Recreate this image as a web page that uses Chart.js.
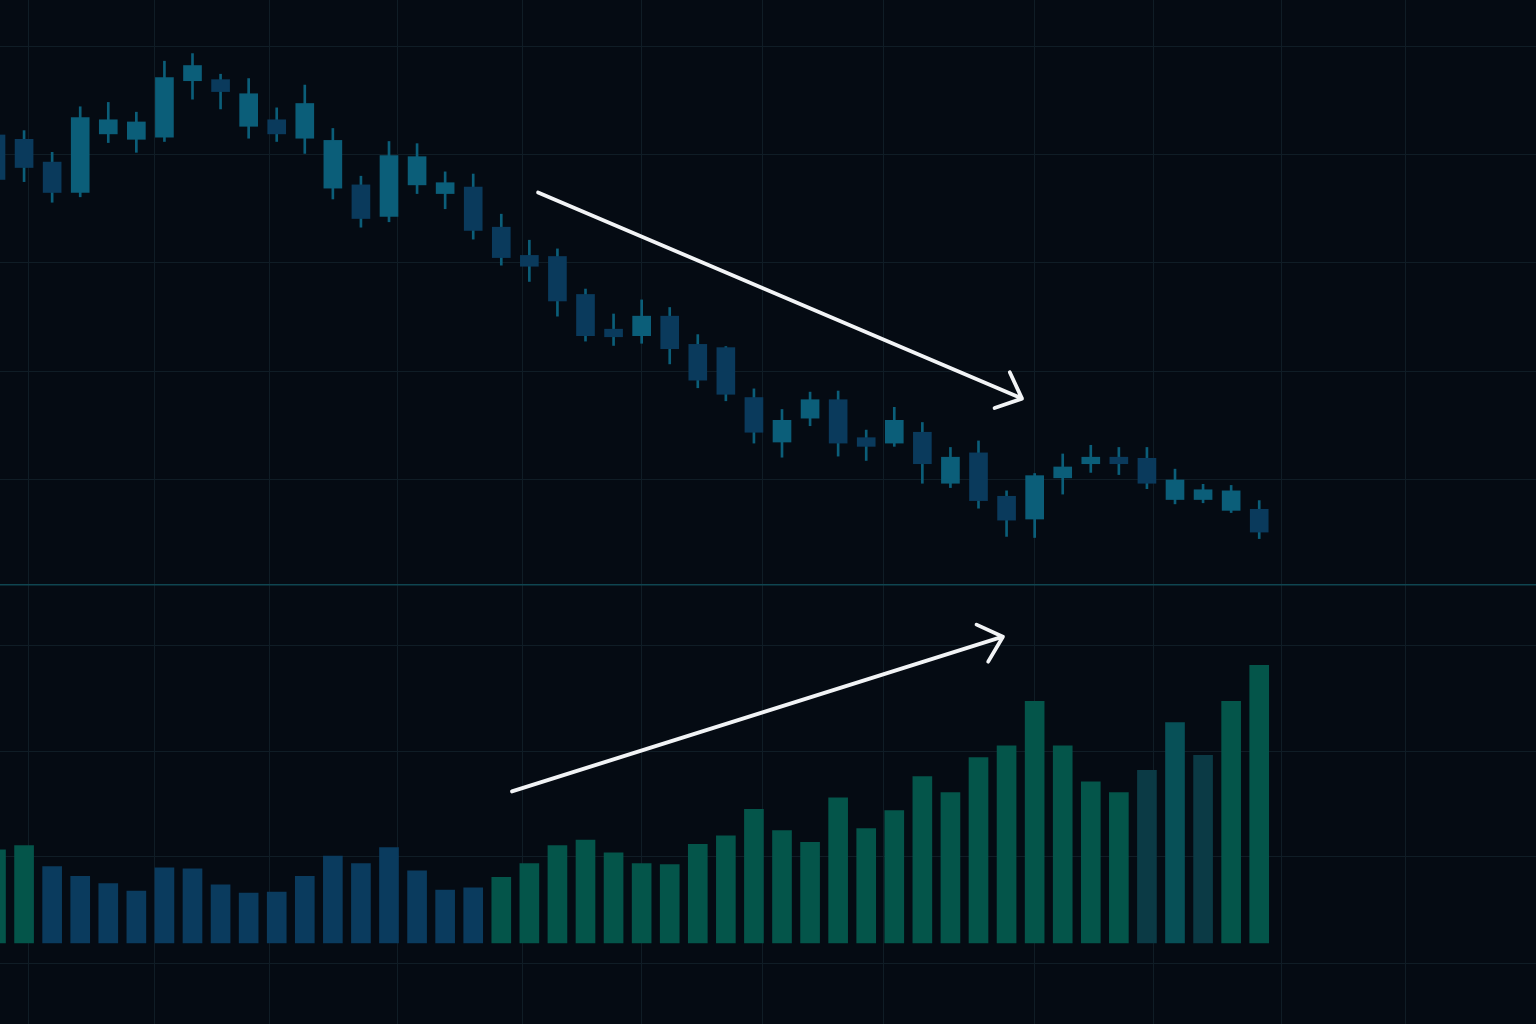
<!DOCTYPE html>
<html>
<head>
<meta charset="utf-8">
<script src="https://cdn.jsdelivr.net/npm/chart.js@4.4.1/dist/chart.umd.min.js"></script>
<style>
  html, body { margin: 0; padding: 0; background: #050b13; }
  canvas { display: block; }
</style>
</head>
<body>
<canvas id="chart" width="1536" height="1024"></canvas>
<script>
// daily OHLC, session 0 .. 45
const opens  = [131.8,131.4,129.3,126.5,131.9,131.4,131.6,136.8,136.9,132.6,133.2,131.5,126.9,127.2,124.3,127.2,126.4,127.0,123.3,120.7,120.6,117.1,113.9,113.3,115.1,112.5,112.2,107.6,103.5,105.7,107.4,103.9,103.4,104.4,99.7,102.5,98.5,96.4,100.2,101.5,102.1,102.0,98.2,98.2,97.2,97.3];
const highs  = [132.4,132.2,130.2,134.4,134.8,133.9,138.6,139.3,137.4,137.0,134.3,136.4,132.4,128.0,131.2,131.0,128.4,128.2,124.5,122.1,121.3,117.6,115.3,116.6,115.9,113.4,112.3,108.4,106.5,108.1,108.2,104.6,106.7,105.3,103.0,103.6,99.0,100.6,102.4,103.2,103.0,103.0,101.0,99.6,99.5,98.1];
const lows   = [127.2,127.5,125.6,126.1,131.1,130.2,131.2,135.1,134.2,131.5,131.2,130.1,125.9,123.3,123.8,126.4,125.0,122.2,119.8,118.3,115.1,112.8,112.4,112.6,110.7,108.5,107.3,103.4,102.1,105.0,102.2,101.8,103.1,99.7,99.3,97.4,94.8,94.7,98.7,100.7,100.5,99.2,97.8,97.9,97.0,94.6];
const closes = [127.7,128.8,126.5,133.4,133.2,133.0,137.1,138.2,135.8,135.6,131.9,134.7,131.3,124.1,129.9,129.8,127.4,123.0,120.5,119.7,116.5,113.3,113.2,115.1,112.1,109.2,107.9,104.4,105.5,107.4,103.4,103.1,105.5,101.5,102.1,98.1,96.3,100.4,101.2,102.1,101.5,99.7,100.0,99.1,99.0,95.2];

// volume (millions) and flow type
const volumes = [8.8,9.2,7.2,6.3,5.6,4.9,7.1,7.0,5.5,4.7,4.8,6.3,8.2,7.5,9.0,6.8,5.0,5.2,6.2,7.5,9.2,9.7,8.5,7.5,7.4,9.3,10.1,12.6,10.6,9.5,13.7,10.8,12.5,15.7,14.2,17.5,18.6,22.8,18.6,15.2,14.2,16.3,20.8,17.7,22.8,26.2];
const volFlow = ['buy','buy','sell','sell','sell','sell','sell','sell','sell','sell','sell','sell','sell','sell','sell','sell','sell','sell',
  'buy','buy','buy','buy','buy','buy','buy','buy','buy','buy','buy','buy','buy','buy','buy','buy','buy','buy','buy','buy','buy','buy','buy',
  'neutral','mixed','neutral','buy','buy'];

// grid tick values
const priceTicks = [100, 110, 120, 130, 140];
const volTicks = [-1.9, 8.2, 18.1, 28.1];
const volPanelTop = 33.8;
const sessionGrid = [1.14, 5.63, 9.73, 14.29, 18.74, 23.01, 27.32, 31.6, 36.98, 41.25, 45.78, 50.2];

// trend arrows: [session, value] start and end
const priceArrow = [[19.31, 126.5], [36.55, 107.5]];
const volArrow = [[18.38, 14.3], [35.87, 28.9]];

const BG = '#050b13';
const GRID = '#101d26';
const SEP = '#0f4550';
const UP = '#0b5e79';
const DOWN = '#0a3a5c';
const WICK = '#0b5e79';
const flowColors = { buy: '#04554a', sell: '#0a3b5e', neutral: '#0b3a45', mixed: '#075057' };

const idx = opens.map((_, i) => i);

const bgPlugin = {
  id: 'bg',
  beforeDraw(chart) {
    const c = chart.ctx;
    c.save();
    c.fillStyle = BG;
    c.fillRect(0, 0, chart.width, chart.height);
    c.restore();
  }
};

function drawArrow(c, x1, y1, x2, y2) {
  const ang = Math.atan2(y2 - y1, x2 - x1);
  const len = 29, spread = 42 * Math.PI / 180;
  c.beginPath();
  c.moveTo(x1, y1);
  c.lineTo(x2, y2);
  c.moveTo(x2 - len * Math.cos(ang - spread), y2 - len * Math.sin(ang - spread));
  c.lineTo(x2, y2);
  c.lineTo(x2 - len * Math.cos(ang + spread), y2 - len * Math.sin(ang + spread));
  c.stroke();
}

const arrowPlugin = {
  id: 'arrows',
  afterDatasetsDraw(chart) {
    const c = chart.ctx;
    const xs = chart.scales.x, yp = chart.scales.yP, yv = chart.scales.yV;
    c.save();
    c.strokeStyle = '#f2f4f6';
    c.lineWidth = 3.8;
    c.lineCap = 'round';
    c.lineJoin = 'round';
    drawArrow(c, xs.getPixelForValue(priceArrow[0][0]), yp.getPixelForValue(priceArrow[0][1]),
                 xs.getPixelForValue(priceArrow[1][0]), yp.getPixelForValue(priceArrow[1][1]));
    drawArrow(c, xs.getPixelForValue(volArrow[0][0]), yv.getPixelForValue(volArrow[0][1]),
                 xs.getPixelForValue(volArrow[1][0]), yv.getPixelForValue(volArrow[1][1]));
    c.restore();
  }
};

const hidden = { display: false };

new Chart(document.getElementById('chart'), {
  type: 'bar',
  data: {
    datasets: [
      {
        label: 'Body',
        yAxisID: 'yP',
        order: 0,
        grouped: false,
        barThickness: 18,
        data: idx.map(i => ({ x: i, y: [opens[i], closes[i]] })),
        backgroundColor: idx.map(i => closes[i] >= opens[i] ? UP : DOWN),
        borderSkipped: false
      },
      {
        label: 'Wick',
        yAxisID: 'yP',
        order: 1,
        grouped: false,
        barThickness: 2,
        data: idx.map(i => ({ x: i, y: [lows[i], highs[i]] })),
        backgroundColor: WICK,
        borderSkipped: false
      },
      {
        label: 'Volume',
        yAxisID: 'yV',
        order: 2,
        grouped: false,
        barThickness: 19,
        data: idx.map(i => ({ x: i, y: volumes[i] })),
        backgroundColor: volFlow.map(f => flowColors[f])
      }
    ]
  },
  options: {
    responsive: false,
    animation: false,
    devicePixelRatio: 1,
    layout: { padding: 0 },
    plugins: { legend: hidden, tooltip: { enabled: false } },
    scales: {
      x: {
        type: 'linear',
        offset: false,
        min: 0.1425,
        max: 54.86,
        ticks: hidden,
        border: hidden,
        grid: { color: GRID, lineWidth: 1, drawTicks: false, offset: false },
        afterBuildTicks: s => { s.ticks = sessionGrid.map(v => ({ value: v })); },
        afterFit: s => { s.height = 0; }
      },
      yP: {
        type: 'linear',
        position: 'left',
        min: 49.86,
        max: 144.24,
        ticks: hidden,
        border: hidden,
        grid: { color: GRID, lineWidth: 1, drawTicks: false },
        afterBuildTicks: s => { s.ticks = priceTicks.map(v => ({ value: v })); },
        afterFit: s => { s.width = 0; }
      },
      yV: {
        type: 'linear',
        position: 'right',
        min: -7.64,
        max: 88.96,
        ticks: hidden,
        border: hidden,
        grid: {
          drawTicks: false,
          color: ctx => (ctx.tick && ctx.tick.value === volPanelTop) ? SEP : GRID,
          lineWidth: ctx => (ctx.tick && ctx.tick.value === volPanelTop) ? 1.5 : 1
        },
        afterBuildTicks: s => { s.ticks = volTicks.concat([volPanelTop]).map(v => ({ value: v })); },
        afterFit: s => { s.width = 0; }
      }
    }
  },
  plugins: [bgPlugin, arrowPlugin]
});
</script>
</body>
</html>
